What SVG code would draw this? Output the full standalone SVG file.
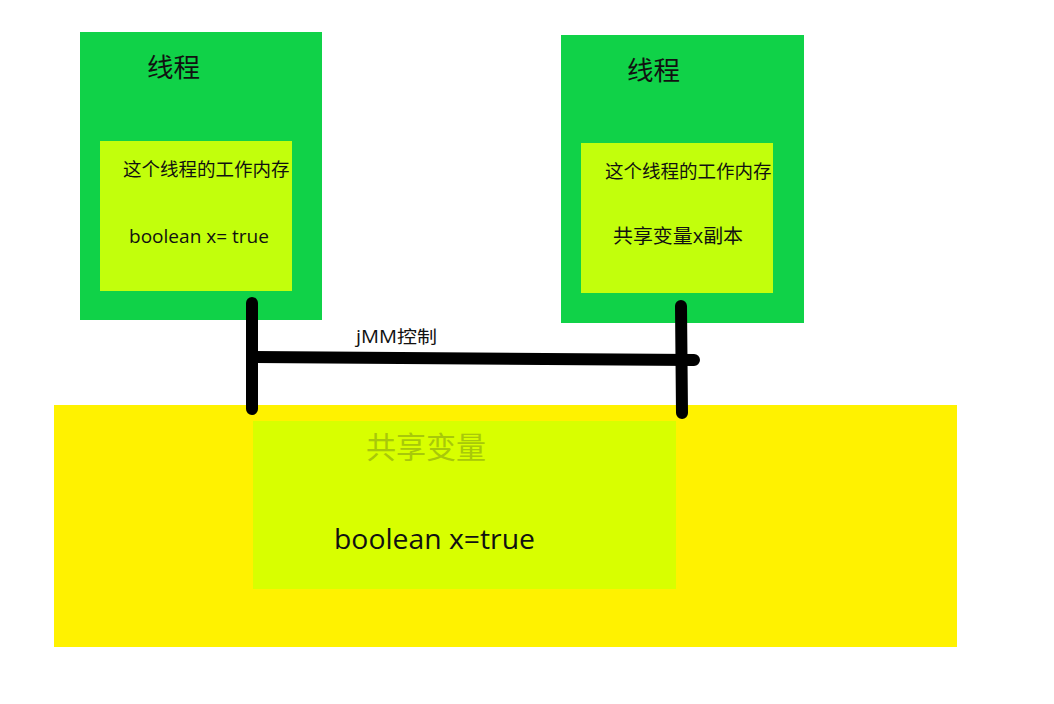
<svg xmlns="http://www.w3.org/2000/svg" width="1054" height="704" viewBox="0 0 1054 704">
<style>
.t{font-family:"Open Sans","Noto Sans CJK SC",sans-serif;fill:#111}
.green{fill:#10d248}
.lime{fill:#c2ff0c}
.line{stroke:#000;stroke-width:12;stroke-linecap:round;fill:none}
</style>
<rect width="1054" height="704" fill="#fff"/>
<g id="shared">
<rect x="54" y="405" width="903" height="242" fill="#fff200"/>
<rect x="253" y="421" width="423" height="168" fill="#d8ff00"/>
<text class="t" x="366" y="458" font-size="30" style="fill:#a8c80a">共享变量</text>
<text class="t" x="334" y="549" font-size="28" textLength="201" lengthAdjust="spacingAndGlyphs">boolean x=true</text>
</g>
<g id="thread1">
<rect class="green" x="80" y="32" width="242" height="288"/>
<rect class="lime" x="100" y="141" width="192" height="150"/>
<text class="t" x="147" y="77" font-size="26.5">线程</text>
<text class="t" x="123" y="176" font-size="18.5">这个线程的工作内存</text>
<text class="t" x="129" y="243" font-size="18" textLength="140" lengthAdjust="spacingAndGlyphs">boolean x= true</text>
</g>
<g id="thread2">
<rect class="green" x="561" y="35" width="243" height="288"/>
<rect class="lime" x="581" y="143" width="192" height="150"/>
<text class="t" x="627" y="80" font-size="26.5">线程</text>
<text class="t" x="605" y="178" font-size="18.5">这个线程的工作内存</text>
<text class="t" x="613" y="243" font-size="19.5" textLength="130" lengthAdjust="spacingAndGlyphs">共享变量x副本</text>
</g>
<g id="connectors">
<path class="line" d="M252 303 L252 409"/>
<path class="line" d="M252 357 L694 360"/>
<path class="line" d="M681 306 L682 413"/>
<text class="t" x="356" y="343" font-size="17.5" textLength="81" lengthAdjust="spacingAndGlyphs">jMM控制</text>
</g>
</svg>
